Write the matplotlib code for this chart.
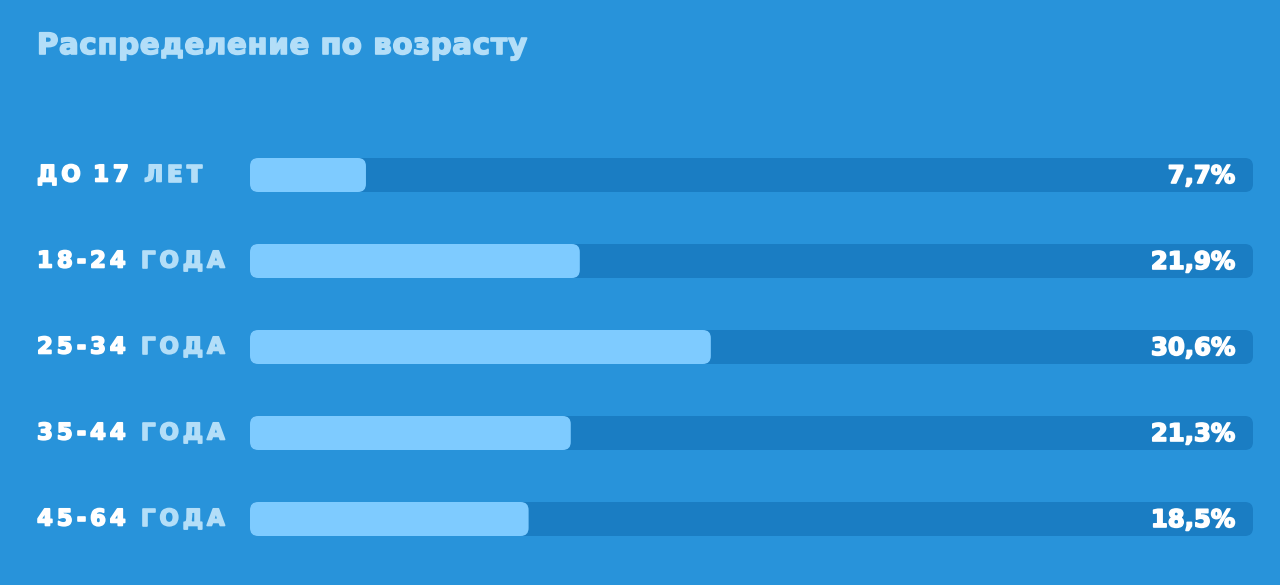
import matplotlib

matplotlib.use("Agg")
import matplotlib.pyplot as plt
import matplotlib.patheffects as pe
from matplotlib.patches import FancyBboxPatch
from matplotlib.offsetbox import TextArea, HPacker, AnnotationBbox

# data
ages = ["ДО 17", "18-24", "25-34", "35-44", "45-64"]
units = ["ЛЕТ", "ГОДА", "ГОДА", "ГОДА", "ГОДА"]
shares = [7.7, 21.9, 30.6, 21.3, 18.5]
track_max = 66.6

BG = "#2893da"
TRACK = "#1a7dc3"
FILL = "#7ecbff"
PALE = "#b3def8"
FONT = ["DejaVu Sans"]


def heavy(color, w=1.2):
    return [pe.Stroke(linewidth=w, foreground=color), pe.Normal()]


fig = plt.figure(figsize=(12.8, 5.85), dpi=100, facecolor=BG)
ax = fig.add_axes([250 / 1280, 1 - 562 / 585, 1003 / 1280, 430 / 585])
ax.set_facecolor(BG)
ax.set_xlim(0, track_max)
ax.set_ylim(len(ages) - 0.5, -0.5)
ax.axis("off")

# rounding in x units, aspect to keep corners circular in pixels
px_x = 1003 / track_max
px_y = 430 / len(ages)
r = 8 / px_x
asp = px_x / px_y
h = 34 / px_y

for i, v in enumerate(shares):
    ax.add_patch(FancyBboxPatch((0, i - h / 2), track_max, h,
                                boxstyle=f"round,pad=0,rounding_size={r}",
                                mutation_aspect=asp, fc=TRACK, ec="none"))
    ax.add_patch(FancyBboxPatch((0, i - h / 2), v, h,
                                boxstyle=f"round,pad=0,rounding_size={r}",
                                mutation_aspect=asp, fc=FILL, ec="none"))
    ax.text(track_max - 18 / px_x, i - 1.5 / px_y, f"{v:.1f}%".replace(".", ","),
            ha="right", va="center_baseline", color="white", fontsize=17.5,
            fontweight="bold", family=FONT, path_effects=heavy("white"))


def spaced(text, color, size, gap, w=1.2, space="\u2009"):
    parts = [TextArea(ch if ch != " " else space,
                      textprops=dict(color=color, fontsize=size,
                                     fontweight="bold", family=FONT,
                                     path_effects=heavy(color, w)))
             for ch in text]
    return HPacker(children=parts, pad=0, sep=gap)


for i, (a, u) in enumerate(zip(ages, units)):
    box = HPacker(children=[spaced(a, "white", 16.5, 2.8),
                            spaced(u, PALE, 16.5, 2.8)],
                  pad=0, sep=11)
    ab = AnnotationBbox(box, (37 / 1280, i), xycoords=("figure fraction", "data"),
                        box_alignment=(0, 0.5), frameon=False, pad=0)
    ax.add_artist(ab)

title = spaced("Распределение по возрасту", PALE, 21, 0.5, w=1.2, space="\u00a0")
ab = AnnotationBbox(title, (37 / 1280, 1 - 46 / 585), xycoords="figure fraction",
                    box_alignment=(0, 0.5), frameon=False, pad=0)
fig.add_artist(ab)

fig.savefig("out.png", dpi=100, facecolor=BG)
